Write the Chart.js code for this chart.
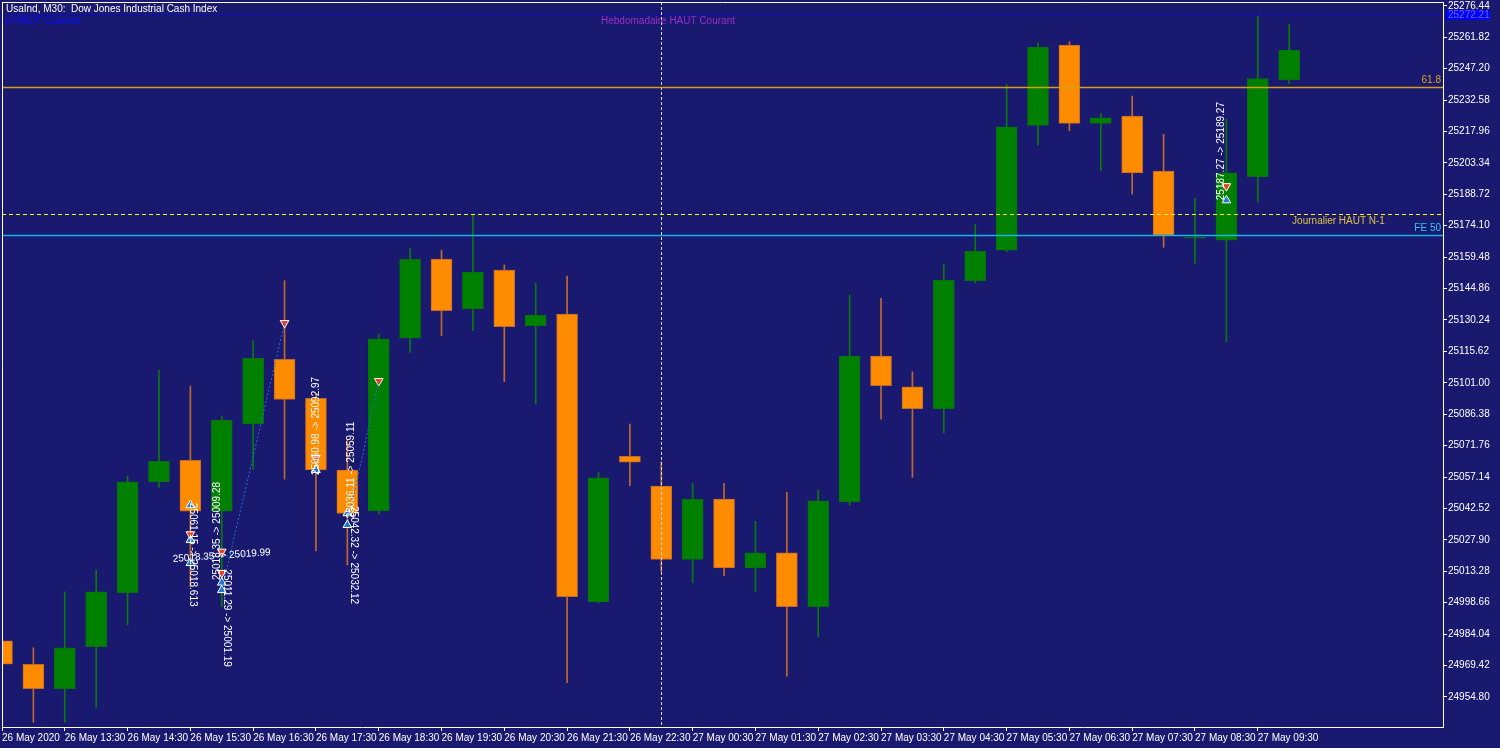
<!DOCTYPE html>
<html lang="fr">
<head>
<meta charset="UTF-8">
<title>UsaInd, M30</title>
<script src="https://cdn.jsdelivr.net/npm/chart.js@4"></script>
<style>
  html, body { margin: 0; padding: 0; background: #191970; }
  #wrap { width: 1500px; height: 748px; position: relative; }
</style>
</head>
<body>
<div id="wrap"><canvas id="chart"></canvas></div>
<script>
// 30 min candles, 26 May 12:30 -> 27 May 10:00 (index = candle number)
const opens  = [24980.9, 24970.0, 24958.6, 24978.2, 25003.3, 25054.9, 25064.9, 25041.3, 25081.9, 25111.9,
                25093.7, 25060.4, 25041.4, 25121.7, 25158.6, 25135.4, 25153.4, 25127.5, 25133.0, 24999.1,
                25066.8, 25052.9, 25018.8, 25046.9, 25014.8, 25021.9, 24996.8, 25045.5, 25113.4, 25099.1,
                25088.9, 25148.5, 25162.7, 25220.8, 25258.1, 25221.7, 25225.1, 25199.5, 25168.3, 25167.4,
                25196.9, 25241.9];
const highs  = [24983.0, 24977.7, 25003.7, 25013.8, 25057.6, 25106.9, 25099.5, 25085.5, 25120.5, 25148.5,
                25096.1, 25074.3, 25123.7, 25163.5, 25162.7, 25179.0, 25155.8, 25147.4, 25150.7, 25059.3,
                25081.8, 25064.2, 25054.2, 25054.2, 25036.5, 25050.0, 25051.1, 25141.9, 25140.3, 25106.1,
                25156.1, 25174.8, 25239.9, 25259.2, 25259.7, 25226.4, 25234.4, 25216.6, 25186.8, 25223.7,
                25272.1, 25267.8];
const lows   = [24966.0, 24943.0, 24943.0, 24950.0, 24988.3, 25052.3, 25006.1, 24996.8, 25060.8, 25056.2,
                25022.8, 25016.2, 25039.9, 25115.1, 25122.9, 25125.2, 25101.5, 25091.1, 24961.4, 24998.5,
                25053.1, 25013.1, 25007.9, 25011.2, 25003.7, 24964.5, 24982.8, 25044.0, 25084.0, 25057.0,
                25077.7, 25147.5, 25162.0, 25211.6, 25218.3, 25199.7, 25188.8, 25164.0, 25156.6, 25120.1,
                25185.2, 25240.3];
const closes = [24970.0, 24958.6, 24977.7, 25003.7, 25054.9, 25064.4, 25041.3, 25083.6, 25112.4, 25093.3,
                25060.4, 25040.2, 25121.5, 25158.6, 25134.5, 25152.5, 25127.1, 25132.5, 25001.4, 25056.8,
                25064.0, 25018.8, 25046.9, 25014.8, 25021.9, 24996.8, 25046.0, 25113.4, 25099.6, 25088.9,
                25148.8, 25162.3, 25220.1, 25257.2, 25221.7, 25224.3, 25198.7, 25169.7, 25168.8, 25198.7,
                25242.6, 25255.8];

const xTickIdx = [0, 2, 4, 6, 8, 10, 12, 14, 16, 18, 20, 22, 24, 26, 28, 30, 32, 34, 36, 38, 40];
const xTickLabels = ['26 May 2020', '26 May 13:30', '26 May 14:30', '26 May 15:30', '26 May 16:30',
  '26 May 17:30', '26 May 18:30', '26 May 19:30', '26 May 20:30', '26 May 21:30', '26 May 22:30',
  '27 May 00:30', '27 May 01:30', '27 May 02:30', '27 May 03:30', '27 May 04:30', '27 May 05:30',
  '27 May 06:30', '27 May 07:30', '27 May 08:30', '27 May 09:30'];
const yTicks = [25276.44, 25261.82, 25247.20, 25232.58, 25217.96, 25203.34, 25188.72, 25174.10,
  25159.48, 25144.86, 25130.24, 25115.62, 25101.00, 25086.38, 25071.76, 25057.14, 25042.52,
  25027.90, 25013.28, 24998.66, 24984.04, 24969.42, 24954.80];

// horizontal levels: weekly high, fibo 61.8, daily high N-1, FE 50
const levelPrices = [25272.21, 25238.7, 25179.4, 25169.7];
const dayBreakIdx = 21;

// trades (entry -> exit) and arrows
const tradeLines = [
  [[7.0, 25004.5], [9.0, 25128.8]],
  [[11.0, 25034.8], [12.0, 25101.8]],
  [[6.0, 25019.0], [7.7, 25021.0]]
];
const sellArrows = [[9, 25128.8], [12, 25101.8], [10, 25066.0], [39, 25192.5], [7, 25022.4], [7, 25012.5], [6, 25030.5]];
const buyArrows  = [[10, 25060.4], [11, 25034.8], [11, 25040.3], [39, 25185.9], [6, 25044.0], [6, 25027.8],
                    [6, 25017.1], [7, 25004.5], [7, 25008.0]];
const noteText = ['25060.98 -> 25092.97', '25036.11 -> 25059.11', '25042.32 -> 25032.12',
                  '25011.29 -> 25001.19', '25018.35 -> 25009.28', '25061.15 -> 25018.613',
                  '25018.35 -> 25019.99', '25187.27 -> 25189.27'];
const noteIdx   = [10.0, 11.14, 11.19, 7.16, 6.85, 6.09, 7.0, 38.83];
const notePrice = [25080.9, 25060.4, 25020.8, 24991.5, 25032.0, 25021.0, 25020.5, 25208.8];
const noteRot   = [-90, -90, 90, 90, -90, 90, -4, -90];

const FONT = 'Liberation Sans, Arial, sans-serif';
const GREEN = '#008000', ORANGE = '#ff8c00';
const up = opens.map((o, i) => closes[i] >= o);

const bodies = opens.map((o, i) => ({ x: i, y: [Math.min(o, closes[i]), Math.max(o, closes[i])] }));
const wicks = lows.map((l, i) => ({ x: i, y: [l, highs[i]] }));

const overlay = {
  id: 'overlay',
  beforeDraw(chart) {
    const ctx = chart.ctx;
    ctx.save();
    ctx.fillStyle = '#191970';
    ctx.fillRect(0, 0, chart.width, chart.height);
    ctx.restore();
  },
  afterDatasetsDraw(chart) {
    const { ctx, chartArea: a, scales: { x, y } } = chart;
    const line = (x1, y1, x2, y2, color, dash, w) => {
      ctx.strokeStyle = color; ctx.lineWidth = w || 1; ctx.setLineDash(dash || []);
      ctx.beginPath(); ctx.moveTo(x1, y1); ctx.lineTo(x2, y2); ctx.stroke();
    };
    const py = p => Math.round(y.getPixelForValue(p)) + 0.5;

    ctx.save();
    ctx.beginPath(); ctx.rect(a.left, a.top, a.right - a.left, a.bottom - a.top); ctx.clip();

    const sx = Math.round(x.getPixelForValue(dayBreakIdx)) + 0.5;
    line(sx, a.top, sx, a.bottom, '#d8d8e8', [3, 2]);

    line(a.left, py(levelPrices[0]), a.right, py(levelPrices[0]), '#0000ff', [3, 3]);
    line(a.left, py(levelPrices[1]), a.right, py(levelPrices[1]), '#d4a017', [], 1.6);
    line(a.left, py(levelPrices[2]), a.right, py(levelPrices[2]), '#ffff00', [4, 3]);
    line(a.left, py(levelPrices[3]), a.right, py(levelPrices[3]), '#18b4e8', [], 1.6);

    ctx.font = '10px ' + FONT;
    ctx.textBaseline = 'middle';
    ctx.fillStyle = '#9a2ccc'; ctx.textAlign = 'center';
    ctx.fillText('Hebdomadaire HAUT Courant', 668, py(levelPrices[0]) + 6);
    ctx.fillStyle = '#0a0aff'; ctx.textAlign = 'right';
    ctx.fillText('Mensuel HAUT Courant', 80, py(levelPrices[0]) + 6);
    ctx.fillStyle = '#daa520';
    ctx.fillText('61.8', a.right - 2, py(levelPrices[1]) - 7);
    ctx.fillStyle = '#e0c040';
    ctx.fillText('Journalier HAUT N-1', x.getPixelForValue(44.05), py(levelPrices[2]) + 7);
    ctx.fillStyle = '#2ec8f0';
    ctx.fillText('FE 50', a.right - 2, py(levelPrices[3]) - 7);

    // trade comments
    ctx.fillStyle = '#ffffff';
    ctx.textAlign = 'center';
    noteText.forEach((t, i) => {
      ctx.save();
      ctx.translate(x.getPixelForValue(noteIdx[i]), y.getPixelForValue(notePrice[i]));
      ctx.rotate(noteRot[i] * Math.PI / 180);
      ctx.fillText(t, 0, 0);
      ctx.restore();
    });
    ctx.restore();

    // frame left / top
    ctx.save();
    line(a.left + 0.5, a.top, a.left + 0.5, a.bottom, '#ffffff');
    line(a.left, a.top + 0.5, a.right, a.top + 0.5, '#ffffff');
    // weekly high price tag on the axis
    const ty = y.getPixelForValue(levelPrices[0]);
    ctx.fillStyle = '#0000ff';
    ctx.fillRect(a.right + 3, ty - 5, 44, 10);
    ctx.fillStyle = '#6a6ae0';
    ctx.font = '10px ' + FONT;
    ctx.textAlign = 'left'; ctx.textBaseline = 'middle';
    ctx.fillText(levelPrices[0].toFixed(2), a.right + 5, ty);
    ctx.fillStyle = '#ffffff';
    ctx.fillText('UsaInd, M30:  Dow Jones Industrial Cash Index', 6, 9);
    ctx.restore();
  }
};

const arrowSet = (pts, color, rot) => ({
  type: 'line', showLine: false,
  data: pts.map(p => ({ x: p[0], y: p[1] })),
  pointStyle: 'triangle', rotation: rot, pointRadius: 5,
  pointBackgroundColor: color, pointBorderColor: '#ffffff', pointBorderWidth: 1
});

new Chart(document.getElementById('chart'), {
  type: 'bar',
  data: {
    datasets: [
      ...tradeLines.map(seg => ({
        type: 'line', data: seg.map(p => ({ x: p[0], y: p[1] })),
        borderColor: '#2070d8', borderWidth: 1, borderDash: [2, 2], pointRadius: 0
      })),
      arrowSet(sellArrows, '#f03c1e', 180),
      arrowSet(buyArrows, '#1e78d2', 0),
      {
        data: bodies, grouped: false, barThickness: 21, minBarLength: 1,
        backgroundColor: up.map(u => u ? GREEN : ORANGE),
        borderColor: up.map(u => u ? '#0b6e0b' : '#c0692a'),
        borderWidth: 1, borderSkipped: false
      },
      {
        data: wicks, grouped: false, barThickness: 1,
        backgroundColor: up.map(u => u ? '#0b7a0b' : '#c0692a'),
        borderWidth: 0
      }
    ]
  },
  options: {
    responsive: true,
    maintainAspectRatio: false,
    animation: false,
    events: [],
    layout: { autoPadding: false, padding: { left: 2, top: 2, right: 0, bottom: 0 } },
    plugins: { legend: { display: false }, tooltip: { enabled: false } },
    scales: {
      x: {
        type: 'linear', min: 0, max: 45.9, offset: false,
        afterBuildTicks: s => { s.ticks = xTickIdx.map(v => ({ value: v })); },
        afterFit: s => { s.height = 21; s.paddingLeft = 0; s.paddingRight = 0; },
        ticks: {
          color: '#ffffff', align: 'start', maxRotation: 0, autoSkip: false, padding: 1,
          font: { family: FONT, size: 10 },
          callback: v => xTickLabels[xTickIdx.indexOf(v)]
        },
        grid: { drawOnChartArea: false, offset: false, color: '#ffffff', tickLength: 4 },
        border: { color: '#ffffff' }
      },
      y: {
        type: 'linear', position: 'right', min: 24940.8, max: 25278.2,
        afterBuildTicks: s => { s.ticks = yTicks.map(v => ({ value: v })); },
        afterFit: s => { s.width = 57; s.paddingTop = 0; s.paddingBottom = 0; },
        ticks: {
          color: '#ffffff', padding: 1,
          font: { family: FONT, size: 10 },
          callback: v => v.toFixed(2)
        },
        grid: { drawOnChartArea: false, color: '#ffffff', tickLength: 4 },
        border: { color: '#ffffff' }
      }
    }
  },
  plugins: [overlay]
});
</script>
</body>
</html>
